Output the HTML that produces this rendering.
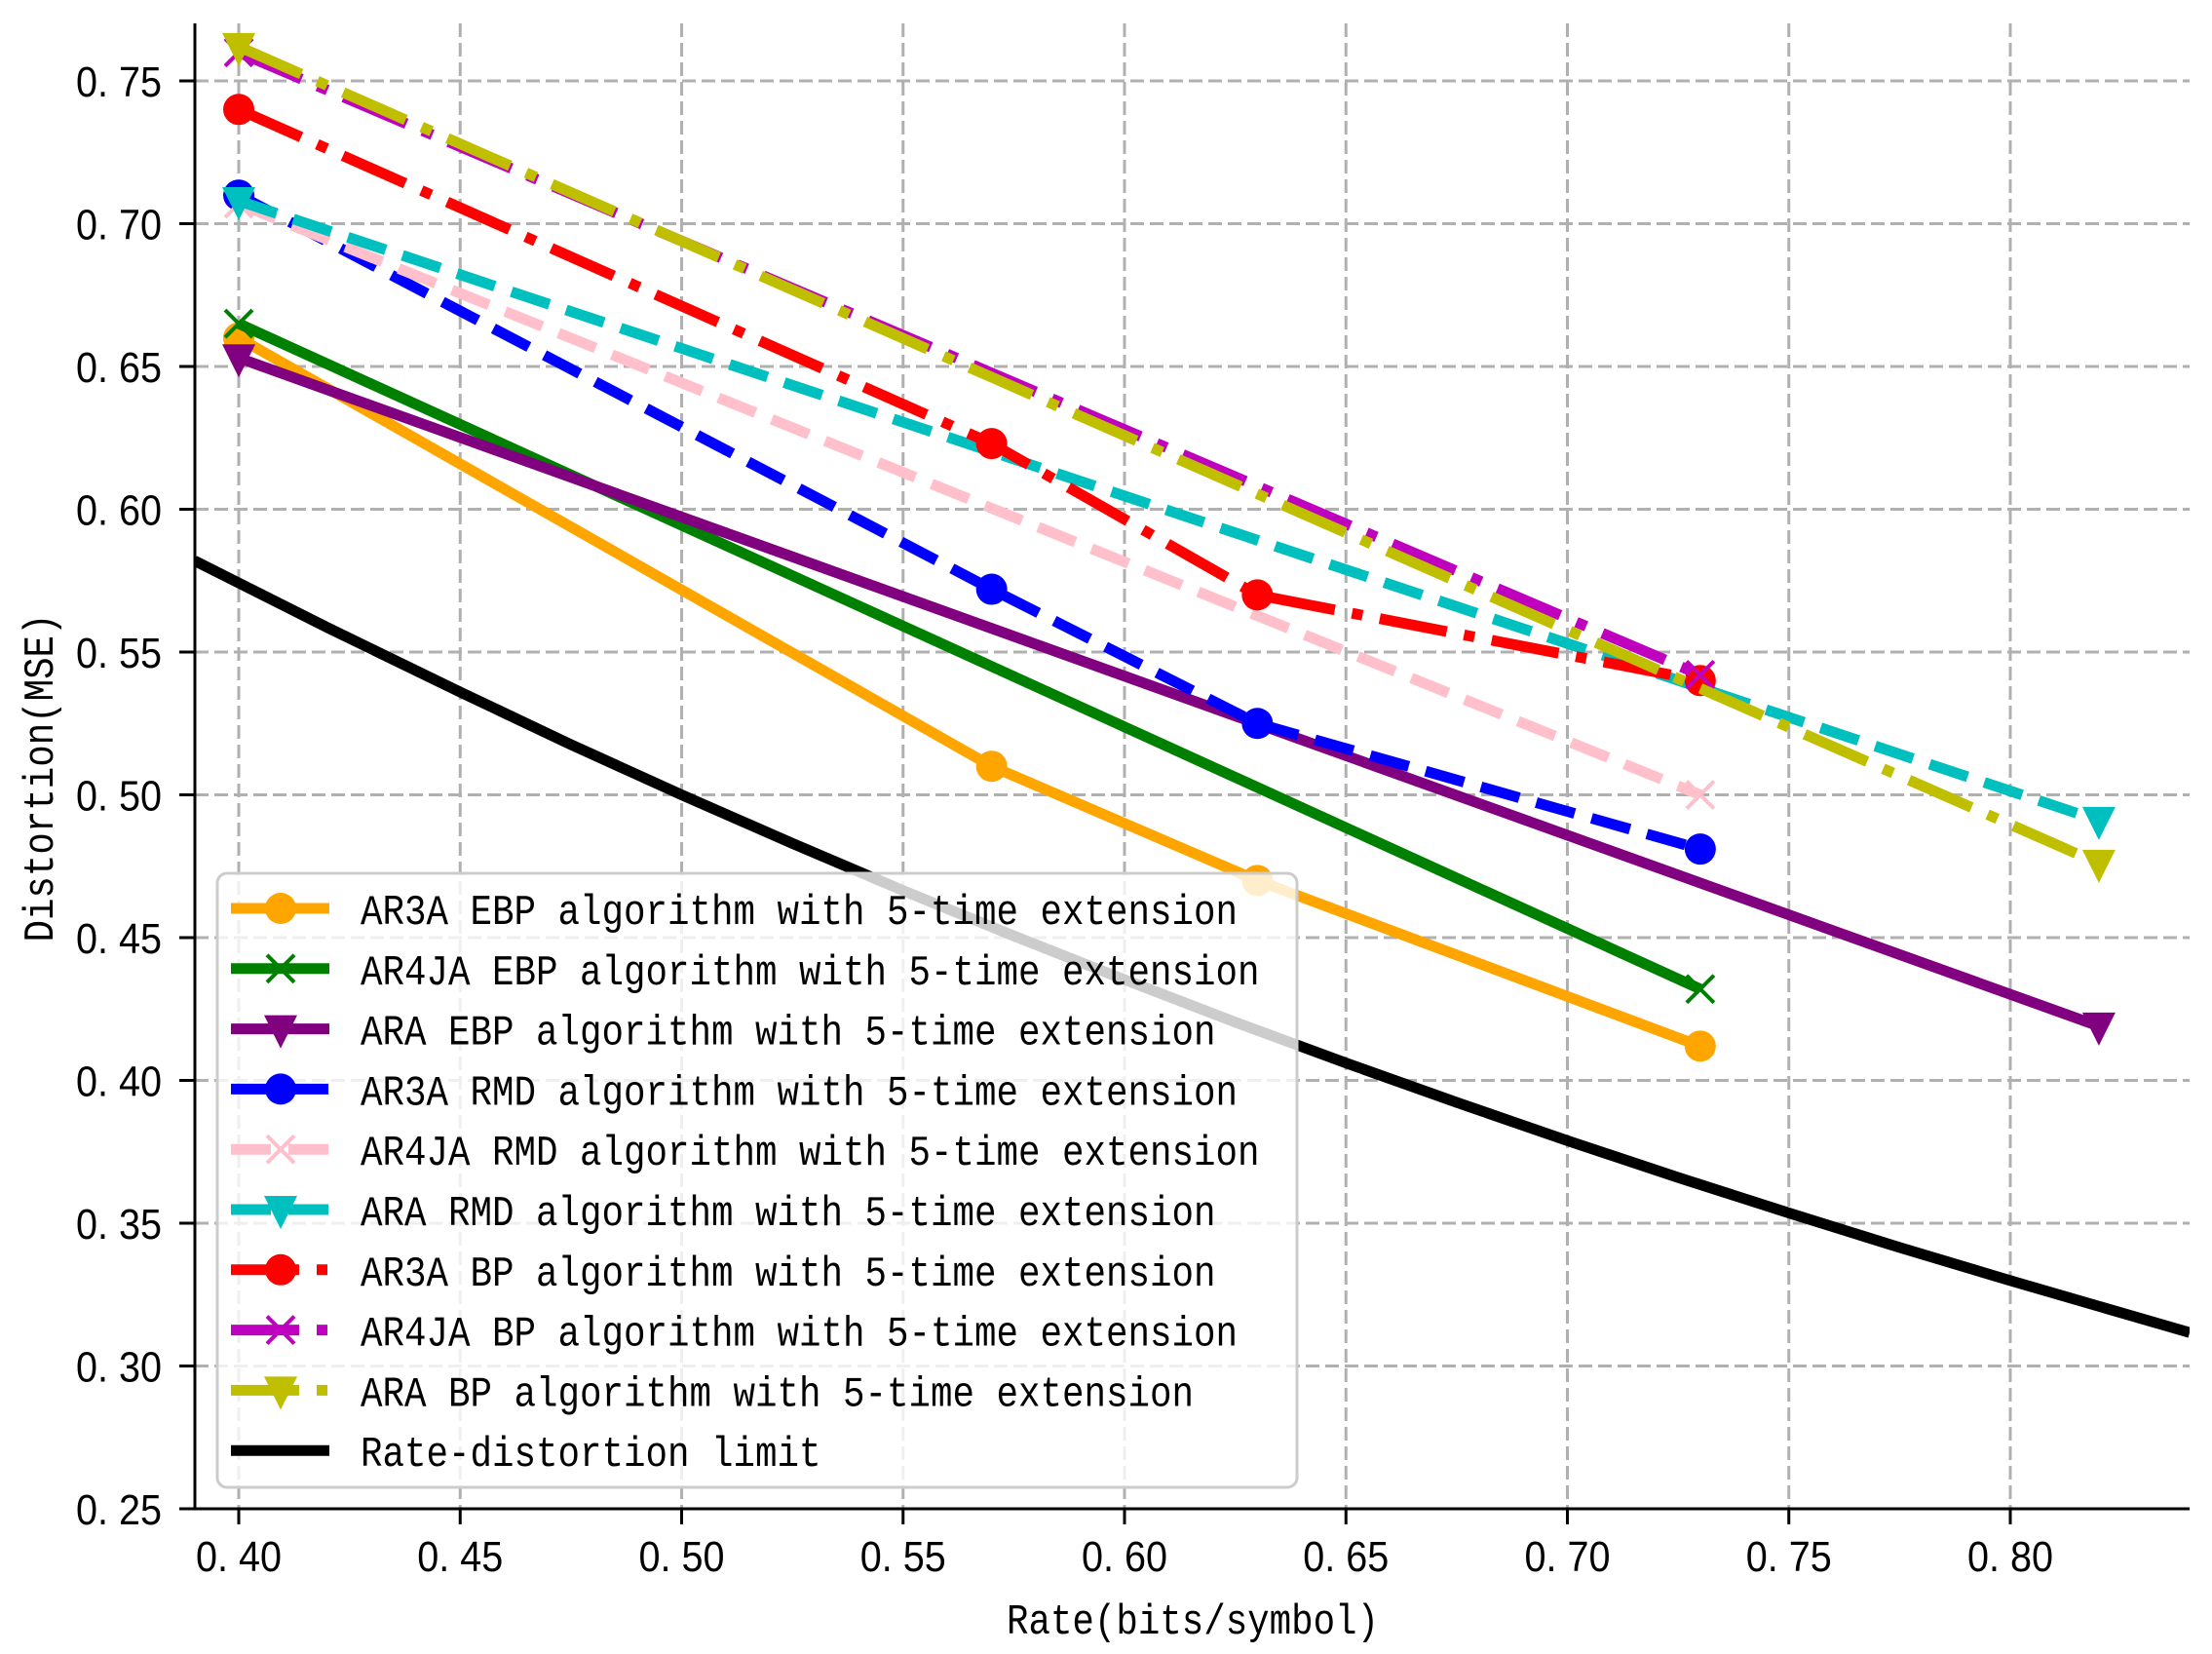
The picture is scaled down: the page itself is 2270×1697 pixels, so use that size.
<!DOCTYPE html>
<html><head><meta charset="utf-8"><style>
html,body{margin:0;padding:0;background:#fff;}
svg{display:block;}
text{font-family:"WenQuanYi Zen Hei","Liberation Mono","Noto Sans CJK SC",monospace;fill:#000;}
.tick{font-family:"WenQuanYi Zen Hei","Liberation Sans","Noto Sans CJK SC",sans-serif;font-size:44px;}
</style></head><body>
<svg id="chart" width="2270" height="1697" viewBox="0 0 2270 1697" xmlns="http://www.w3.org/2000/svg">
<g id="grid"></g>
<g id="series"></g>
<g id="axes"></g>
<g id="legend"></g>
</svg>
<script>
const xTicks = [0.40,0.45,0.50,0.55,0.60,0.65,0.70,0.75,0.80];
const xTickLabels = ["0. 40","0. 45","0. 50","0. 55","0. 60","0. 65","0. 70","0. 75","0. 80"];
const yTicks = [0.25,0.30,0.35,0.40,0.45,0.50,0.55,0.60,0.65,0.70,0.75];
const yTickLabels = ["0. 25","0. 30","0. 35","0. 40","0. 45","0. 50","0. 55","0. 60","0. 65","0. 70","0. 75"];
const seriesNames = ["AR3A EBP algorithm with 5-time extension","AR4JA EBP algorithm with 5-time extension","ARA EBP algorithm with 5-time extension","AR3A RMD algorithm with 5-time extension","AR4JA RMD algorithm with 5-time extension","ARA RMD algorithm with 5-time extension","AR3A BP algorithm with 5-time extension","AR4JA BP algorithm with 5-time extension","ARA BP algorithm with 5-time extension","Rate-distortion limit"];
const ar3aEbpX = [0.40,0.57,0.63,0.73];
const ar3aEbpY = [0.660,0.510,0.470,0.412];
const ar4jaEbpX = [0.40,0.73];
const ar4jaEbpY = [0.665,0.432];
const araEbpX = [0.40,0.82];
const araEbpY = [0.653,0.419];
const ar3aRmdX = [0.40,0.57,0.63,0.73];
const ar3aRmdY = [0.710,0.572,0.525,0.481];
const ar4jaRmdX = [0.40,0.73];
const ar4jaRmdY = [0.707,0.500];
const araRmdX = [0.40,0.82];
const araRmdY = [0.708,0.491];
const ar3aBpX = [0.40,0.57,0.63,0.73];
const ar3aBpY = [0.740,0.623,0.570,0.540];
const ar4jaBpX = [0.40,0.73];
const ar4jaBpY = [0.760,0.542];
const araBpX = [0.40,0.82];
const araBpY = [0.762,0.476];
const rdLimitX = [0.39,0.42,0.45,0.475,0.50,0.525,0.55,0.575,0.60,0.625,0.65,0.675,0.70,0.725,0.75,0.775,0.80,0.82,0.8405];
const rdLimitY = [0.582,0.5586,0.536,0.5176,0.500,0.483,0.4665,0.4506,0.4353,0.4204,0.4061,0.3923,0.3789,0.366,0.3536,0.3415,0.3299,0.3209,0.3117];

const X0=200,X1=2247,Y0=1548,Y1=24;
function xs(v){return 245+(v-0.40)/0.05*227.25;}
function ys(v){return 1548-(v-0.25)/0.05*146.5;}
const NS="http://www.w3.org/2000/svg";
function mk(tag,attrs,parent){const e=document.createElementNS(NS,tag);for(const k in attrs)e.setAttribute(k,attrs[k]);parent.appendChild(e);return e;}
const grid=document.getElementById('grid'),axes=document.getElementById('axes'),ser=document.getElementById('series'),leg=document.getElementById('legend');

xTicks.forEach((t,i)=>{
  const g=mk('line',{x1:xs(t),x2:xs(t),y1:Y1,y2:Y0,stroke:'#b0b0b0','stroke-width':3,'stroke-dasharray':'14,6'},grid);
  
  
  const tk=mk('line',{x1:xs(t),x2:xs(t),y1:Y0,y2:Y0+16,stroke:'#000','stroke-width':3},axes);
  
  
  const tx=mk('text',{x:xs(t),y:1612,'text-anchor':'middle',class:'tick',textLength:88,lengthAdjust:'spacingAndGlyphs'},axes);
  tx.textContent=xTickLabels[i];
  
  
});
yTicks.forEach((t,i)=>{
  const g=mk('line',{x1:X0,x2:X1,y1:ys(t),y2:ys(t),stroke:'#b0b0b0','stroke-width':3,'stroke-dasharray':'14,6'},grid);
  
  
  const tk=mk('line',{x1:X0-16,x2:X0,y1:ys(t),y2:ys(t),stroke:'#000','stroke-width':3},axes);
  
  
  const tx=mk('text',{x:166,y:ys(t)+16,'text-anchor':'end',class:'tick',textLength:88,lengthAdjust:'spacingAndGlyphs'},axes);
  tx.textContent=yTickLabels[i];
  
  
});
const sp1=mk('line',{x1:X0,x2:X0,y1:Y1,y2:Y0+1.5,stroke:'#000','stroke-width':3},axes);


const sp2=mk('line',{x1:X0-1.5,x2:X1,y1:Y0,y2:Y0,stroke:'#000','stroke-width':3},axes);


const xt=mk('text',{x:1224,y:1676,'text-anchor':'middle','font-size':44,textLength:382,lengthAdjust:'spacingAndGlyphs'},axes);
xt.textContent='Rate(bits/symbol)';


const yt=mk('text',{x:0,y:0,'text-anchor':'middle','font-size':44,textLength:337,lengthAdjust:'spacingAndGlyphs',transform:'translate(54,798) rotate(-90)'},axes);
yt.textContent='Distortion(MSE)';



const DASH='41,18',DD='70,18,11,18';
const styles=[
 {c:'#ffa500',d:null,m:'o'},{c:'#008000',d:null,m:'x'},{c:'#800080',d:null,m:'v'},
 {c:'#0000ff',d:DASH,m:'o'},{c:'#ffc0cb',d:DASH,m:'x'},{c:'#00bfbf',d:DASH,m:'v'},
 {c:'#ff0000',d:DD,m:'o'},{c:'#bf00bf',d:DD,m:'x'},{c:'#bfbf00',d:DD,m:'v'},
 {c:'#000000',d:null,m:null}];
const seriesX=[ar3aEbpX,ar4jaEbpX,araEbpX,ar3aRmdX,ar4jaRmdX,araRmdX,ar3aBpX,ar4jaBpX,araBpX,rdLimitX];
const seriesY=[ar3aEbpY,ar4jaEbpY,araEbpY,ar3aRmdY,ar4jaRmdY,araRmdY,ar3aBpY,ar4jaBpY,araBpY,rdLimitY];
const dataNames=['ar3a-ebp','ar4ja-ebp','ara-ebp','ar3a-rmd','ar4ja-rmd','ara-rmd','ar3a-bp','ar4ja-bp','ara-bp','rate-distortion-limit'];

function marker(m,cx,cy,c,parent){
  let e;
  if(m==='o') e=mk('circle',{cx:cx,cy:cy,r:16,fill:c},parent);
  else if(m==='x') e=mk('path',{d:`M${cx-14},${cy-14}L${cx+14},${cy+14}M${cx-14},${cy+14}L${cx+14},${cy-14}`,stroke:c,'stroke-width':4,fill:'none'},parent);
  else e=mk('path',{d:`M${cx-17},${cy-14}L${cx+17},${cy-14}L${cx},${cy+20}Z`,fill:c},parent);
  return e;
}
const clip=mk('clipPath',{id:'plotclip'},document.getElementById('chart'));
mk('rect',{x:X0,y:0,width:X1-X0,height:Y0},clip);
ser.setAttribute('clip-path','url(#plotclip)');
[9,0,1,2,3,4,5,6,7,8].forEach(i=>{
  const s=styles[i];
  const g=mk('g',{},ser);
  
  
  const pts=seriesX[i].map((x,j)=>xs(x)+','+ys(seriesY[i][j])).join(' ');
  const pl=mk('polyline',{points:pts,fill:'none',stroke:s.c,'stroke-width':11,'stroke-linejoin':'round'},g);
  if(s.d) pl.setAttribute('stroke-dasharray',s.d);
  
  
  if(s.m){
    seriesX[i].forEach((x,j)=>{
      const mm=marker(s.m,xs(x),ys(seriesY[i][j]),s.c,g);
      
      
    });
  }
});

const lb=mk('rect',{x:223,y:896,width:1108,height:630,rx:10,fill:'#fff','fill-opacity':0.8,stroke:'#cccccc','stroke-width':3},leg);


seriesNames.forEach((n,i)=>{
  const y=932+i*61.8, s=styles[i];
  const g=mk('g',{},leg);
  
  
  const l=mk('line',{x1:237,x2:338,y1:y,y2:y,stroke:s.c,'stroke-width':11},g);
  if(s.d) l.setAttribute('stroke-dasharray',s.d==DASH?'41,18':'70,18,11,18');
  if(s.m) marker(s.m,288,y,s.c,g);
  const t=mk('text',{x:370,y:y+16,'font-size':44,textLength:n.length*22.5,lengthAdjust:'spacingAndGlyphs'},g);
  t.textContent=n;
});
</script>
</body></html>
